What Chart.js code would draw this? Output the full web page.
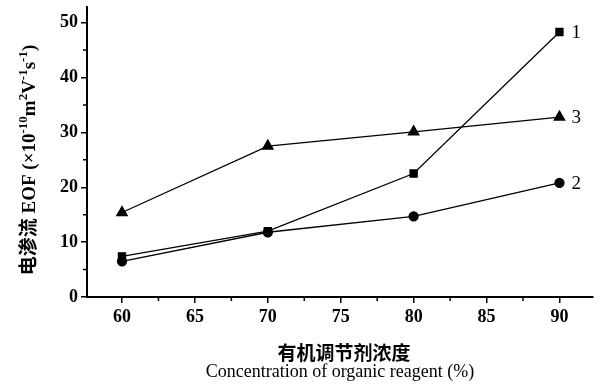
<!DOCTYPE html>
<html lang="zh">
  <head>
    <meta charset="UTF-8" />
    <title>EOF vs organic reagent</title>
    <script src="https://cdn.jsdelivr.net/npm/chart.js@4.4.0/dist/chart.umd.min.js"></script>
    <style>
      body { margin: 0; background: #fff; }
      #wrap { width: 607px; height: 389px; position: relative; }
    </style>
  </head>
  <body>
    <div id="wrap"><canvas id="myChart" width="607" height="389"></canvas></div>
    <script>
      // values
      const concentration = [60, 70, 80, 90];
      const eof1 = [7.4, 12.0, 22.5, 48.3];   // squares
      const eof2 = [6.5, 11.8, 14.7, 20.8];   // circles
      const eof3 = [15.4, 27.5, 30.1, 32.8];  // triangles
      const seriesNames = ['1', '2', '3'];
      const xTicks = [60, 65, 70, 75, 80, 85, 90];
      const xMinor = [57.5, 62.5, 67.5, 72.5, 77.5, 82.5, 87.5, 92.5];
      const yTicks = [0, 10, 20, 30, 40, 50];
      const yMinor = [5, 15, 25, 35, 45];

      // y title pieces: [text, superscript?]
      const yTitle = [['电渗流 EOF (×10', false], ['-10', true], ['m', false], ['2', true],
                      ['V', false], ['-1', true], ['s', false], ['-1', true], [')', false]];
      const xTitleCn = '有机调节剂浓度';
      const xTitleEn = 'Concentration of organic reagent (%)';

      function toPts(ys) {
        return concentration.map((x, i) => ({ x: x, y: ys[i] }));
      }

      const baseFont = 'bold 19px "Liberation Serif", "Noto Sans CJK SC", serif';
      const supFont = 'bold 13px "Liberation Serif", serif';

      function drawRich(c, parts, cx, cy) {
        let w = 0;
        parts.forEach(p => { c.font = p[1] ? supFont : baseFont; w += c.measureText(p[0]).width; });
        let x = cx - w / 2;
        c.textAlign = 'left';
        parts.forEach(p => {
          c.font = p[1] ? supFont : baseFont;
          c.fillText(p[0], x, p[1] ? cy - 6 : cy);
          x += c.measureText(p[0]).width;
        });
      }

      // minor ticks, series numbers and axis titles
      const decor = {
        id: 'decor',
        afterDraw(chart) {
          const c = chart.ctx;
          const xs = chart.scales.x, ys = chart.scales.y;
          const area = chart.chartArea;
          c.save();
          c.strokeStyle = '#000';
          c.lineWidth = 1.5;
          c.beginPath();
          yMinor.forEach(v => {
            const p = ys.getPixelForValue(v);
            c.moveTo(area.left - 4, p); c.lineTo(area.left, p);
          });
          xMinor.forEach(v => {
            const p = xs.getPixelForValue(v);
            if (p < area.left || p > area.right + 1) return;
            c.moveTo(p, area.bottom); c.lineTo(p, area.bottom + 4);
          });
          c.stroke();

          // series numbers next to last points
          c.fillStyle = '#000';
          c.font = '19px "Liberation Serif", serif';
          c.textBaseline = 'middle';
          c.textAlign = 'left';
          chart.data.datasets.forEach((ds, i) => {
            const meta = chart.getDatasetMeta(i);
            const last = meta.data[meta.data.length - 1];
            c.fillText(ds.label, last.x + 12, last.y + 1);
          });

          // y title
          c.save();
          c.translate(30, 160);
          c.rotate(-Math.PI / 2);
          drawRich(c, yTitle, 0, 0);
          c.restore();

          // x titles
          c.textAlign = 'center';
          c.font = 'bold 19px "Noto Sans CJK SC", sans-serif';
          c.fillText(xTitleCn, 344, 353);
          c.font = '18px "Liberation Serif", serif';
          c.fillText(xTitleEn, 340, 372);
          c.restore();
        }
      };

      const common = {
        borderColor: '#000',
        backgroundColor: '#000',
        borderWidth: 1.3,
        pointBorderColor: '#000',
        pointBackgroundColor: '#000',
        fill: false,
        tension: 0
      };

      const tickFont = { family: '"Liberation Serif", "Times New Roman", serif', size: 18, weight: 'bold' };

      const ctx = document.getElementById('myChart').getContext('2d');
      const myChart = new Chart(ctx, {
        type: 'scatter',
        data: {
          datasets: [
            Object.assign({ label: seriesNames[0], data: toPts(eof1), showLine: true, pointStyle: 'rect', pointRadius: 5 }, common),
            Object.assign({ label: seriesNames[1], data: toPts(eof2), showLine: true, pointStyle: 'circle', pointRadius: 4.5 }, common),
            Object.assign({ label: seriesNames[2], data: toPts(eof3), showLine: true, pointStyle: 'triangle', pointRadius: 6 }, common)
          ]
        },
        options: {
          responsive: false,
          animation: false,
          layout: { padding: { top: 5, right: 14, left: 0, bottom: 0 } },
          plugins: { legend: { display: false }, tooltip: { enabled: false } },
          scales: {
            x: {
              type: 'linear',
              min: 57.6,
              max: 92.3,
              afterBuildTicks: s => { s.ticks = xTicks.map(v => ({ value: v })); },
              afterFit: s => { s.height = 92; s.paddingLeft = 0; s.paddingRight = 0; },
              border: { display: true, color: '#000', width: 2 },
              grid: { display: true, drawOnChartArea: false, drawTicks: true, tickLength: 6, color: '#000', lineWidth: 1.5 },
              ticks: { color: '#000', padding: 4, maxRotation: 0, font: tickFont }
            },
            y: {
              min: 0,
              max: 52.8,
              afterBuildTicks: s => { s.ticks = yTicks.map(v => ({ value: v })); },
              afterFit: s => { s.width = 87; s.paddingTop = 0; s.paddingBottom = 0; },
              border: { display: true, color: '#000', width: 2 },
              grid: { display: true, drawOnChartArea: false, drawTicks: true, tickLength: 6, color: '#000', lineWidth: 1.5 },
              ticks: { color: '#000', padding: 3, font: tickFont }
            }
          }
        },
        plugins: [decor]
      });
    </script>
  </body>
</html>
